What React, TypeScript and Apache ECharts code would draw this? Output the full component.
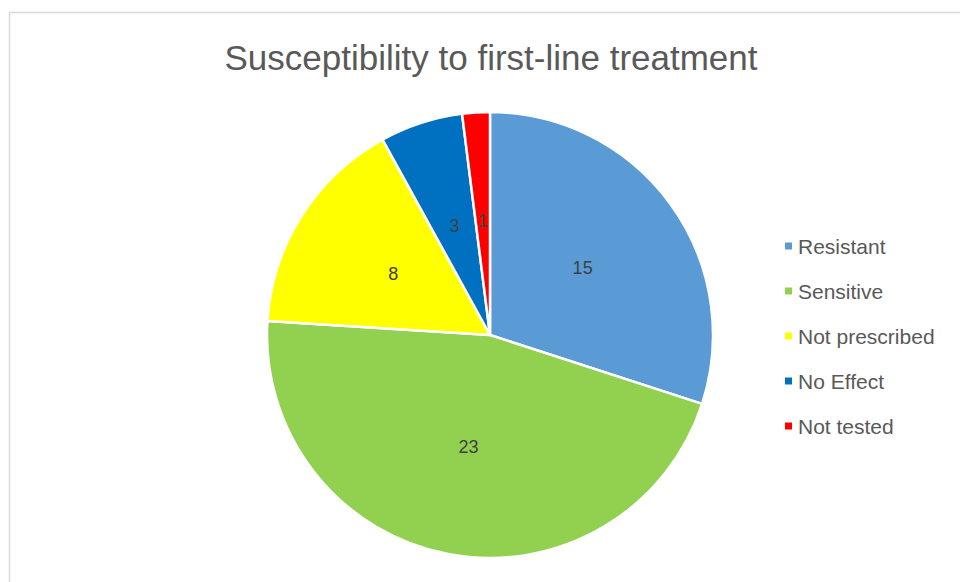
import React, { useEffect, useRef } from "react";
import * as echarts from "echarts";

const titleText = "Susceptibility to first-line treatment";
const categories = ["Resistant", "Sensitive", "Not prescribed", "No Effect", "Not tested"];
const values = [15, 23, 8, 3, 1];
const colors = ["#5B9BD5", "#92D050", "#FFFF00", "#0070C0", "#FF0000"];

export default function App() {
  const ref = useRef<HTMLDivElement>(null);
  useEffect(() => {
    document.body.style.margin = "0";
    const chart = echarts.init(ref.current!, null, { renderer: "svg" });
    chart.setOption({
      animation: false,
      backgroundColor: "#ffffff",
      color: colors,
      graphic: [
        {
          type: "rect",
          shape: { x: 9.5, y: 12.5, width: 1000, height: 600 },
          style: { fill: "none", stroke: "#d9d9d9", lineWidth: 1.5 },
          silent: true,
        },
        {
          type: "text",
          x: 491,
          y: 57,
          style: {
            text: titleText,
            align: "center",
            verticalAlign: "middle",
            fill: "#595959",
            fontSize: 35,
            fontFamily: "Liberation Sans, Arial, sans-serif",
          },
        },
      ],
      legend: {
        orient: "vertical",
        left: 778,
        top: 230,
        itemWidth: 9,
        itemHeight: 9,
        itemGap: 23,
        icon: "rect",
        data: categories,
        textStyle: {
          color: "#595959",
          fontSize: 21,
          lineHeight: 22,
          fontFamily: "Liberation Sans, Arial, sans-serif",
        },
      },
      series: [
        {
          type: "pie",
          center: [490, 335],
          radius: [0, 223],
          startAngle: 90,
          clockwise: true,
          itemStyle: { borderColor: "#ffffff", borderWidth: 2.5 },
          label: {
            position: "inside",
            formatter: "{c}",
            color: "#404040",
            fontSize: 18,
            fontFamily: "Liberation Sans, Arial, sans-serif",
          },
          labelLine: { show: false },
          emphasis: { disabled: true },
          data: categories.map((name, i) => ({ name, value: values[i] })),
        },
      ],
    });
    return () => chart.dispose();
  }, []);
  return (
    <div
      ref={ref}
      style={{ position: "fixed", left: 0, top: 0, width: 960, height: 582 }}
    />
  );
}
